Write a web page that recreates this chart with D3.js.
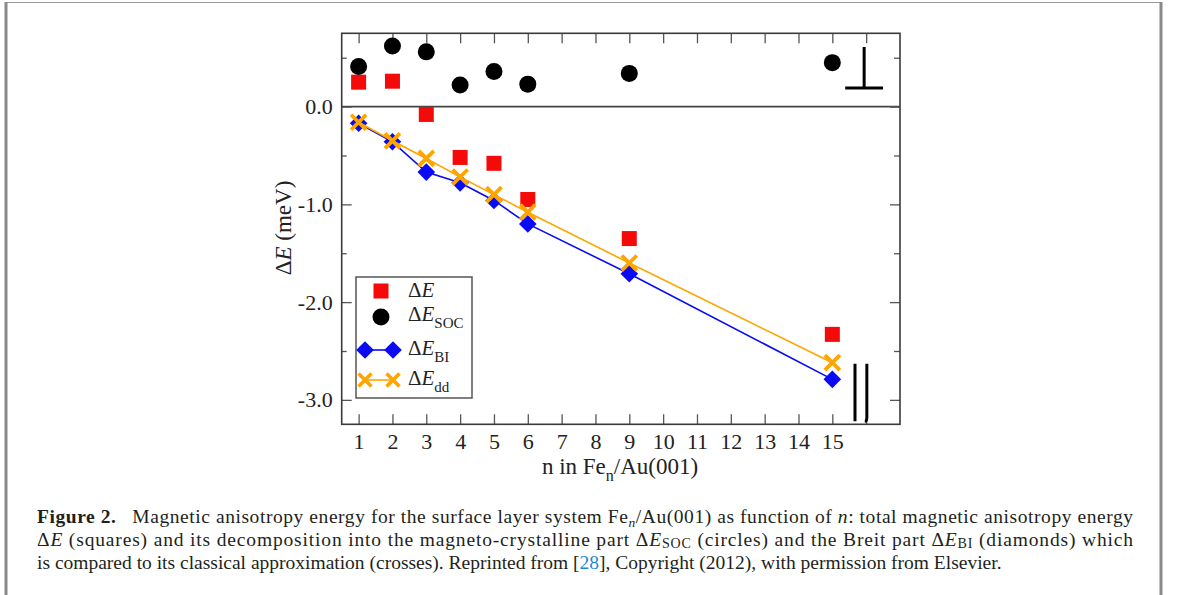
<!DOCTYPE html>
<html><head><meta charset="utf-8">
<script src="https://cdn.jsdelivr.net/npm/d3@7"></script>
<style>
html,body{margin:0;padding:0;background:#fff;}
svg{display:block;}
text{font-family:"Liberation Serif","Times New Roman",serif;}
</style></head>
<body>
<svg id="chart" width="1179" height="595"></svg>
<script>
// ---- data ----
const nValues = [1, 2, 3, 4, 5, 6, 9, 15];
const dE      = [0.25, 0.26, -0.08, -0.52, -0.58, -0.95, -1.35, -2.33];
const dESOC   = [0.41, 0.62, 0.56, 0.22, 0.36, 0.23, 0.34, 0.45];
const dEBI    = [-0.17, -0.36, -0.67, -0.78, -0.96, -1.20, -1.71, -2.79];
const dEdd    = [-0.16, -0.35, -0.53, -0.72, -0.90, -1.08, -1.60, -2.62];
const xTickValues = [1,2,3,4,5,6,7,8,9,10,11,12,13,14,15,16];
const xTickLabels = ["1","2","3","4","5","6","7","8","9","10","11","12","13","14","15",""];
const yMajorTicks = [0, -1, -2, -3];
const yMajorLabels = ["0.0", "-1.0", "-2.0", "-3.0"];
const yMinorTicks = [0.5, -0.5, -1.5, -2.5];

const svg = d3.select("#chart");
const W = 1179, H = 595;

// page frame
svg.append("line").attr("x1",6).attr("x2",1161).attr("y1",2.5).attr("y2",2.5).attr("stroke","#9a9a9a").attr("stroke-width",1);
svg.append("line").attr("x1",6).attr("x2",6).attr("y1",2).attr("y2",H).attr("stroke","#8a8a8a").attr("stroke-width",3);
svg.append("line").attr("x1",1161).attr("x2",1161).attr("y1",2).attr("y2",H).attr("stroke","#8a8a8a").attr("stroke-width",3);

const L = 341.7, R = 900, T = 33.3, B = 424.3;
const x = d3.scaleLinear().domain([0.5, 17]).range([L, R]);
const y = d3.scaleLinear().domain([0.75, -3.25]).range([T, B]);

const axisColor = "#3a3a3a";
const g = svg.append("g");

// zero line
g.append("line").attr("x1",L).attr("x2",R).attr("y1",y(0)).attr("y2",y(0)).attr("stroke","#444").attr("stroke-width",1.6);

// axes via d3 axes (inward ticks)
const fmt = (d) => xTickLabels[xTickValues.indexOf(d)];
const xb = g.append("g").attr("transform",`translate(0,${B})`)
  .call(d3.axisBottom(x).tickValues(xTickValues).tickFormat(fmt).tickSizeInner(-10).tickSizeOuter(0).tickPadding(9));
const xt = g.append("g").attr("transform",`translate(0,${T})`)
  .call(d3.axisTop(x).tickValues(xTickValues).tickFormat("").tickSizeInner(-10).tickSizeOuter(0));
const yl = g.append("g").attr("transform",`translate(${L},0)`)
  .call(d3.axisLeft(y).tickValues(yMajorTicks).tickFormat((d,i)=>yMajorLabels[i]).tickSizeInner(-10).tickSizeOuter(0).tickPadding(9));
const ylm = g.append("g").attr("transform",`translate(${L},0)`)
  .call(d3.axisLeft(y).tickValues(yMinorTicks).tickFormat("").tickSizeInner(-5).tickSizeOuter(0));
const yr = g.append("g").attr("transform",`translate(${R},0)`)
  .call(d3.axisRight(y).tickValues(yMajorTicks).tickFormat("").tickSizeInner(-10).tickSizeOuter(0));
const yrm = g.append("g").attr("transform",`translate(${R},0)`)
  .call(d3.axisRight(y).tickValues(yMinorTicks).tickFormat("").tickSizeInner(-6).tickSizeOuter(0));
[xb,xt,yl,ylm,yr,yrm].forEach(a=>{
  a.select(".domain").remove();
  a.selectAll(".tick line").attr("stroke","#555").attr("stroke-width",1.3);
  a.selectAll("text").attr("fill","#222").style("font-size","22px").style("font-family","Liberation Serif, serif");
});
// frame
g.append("rect").attr("x",L).attr("y",T).attr("width",R-L).attr("height",B-T)
  .attr("fill","none").attr("stroke",axisColor).attr("stroke-width",1.6);

// axis titles
const yt = svg.append("text").attr("transform",`translate(291,228) rotate(-90)`).attr("text-anchor","middle")
  .attr("fill","#222").style("font-size","23px");
yt.append("tspan").text("\u0394");
yt.append("tspan").attr("font-style","italic").text("E");
yt.append("tspan").text(" (meV)");

const xtTitle = svg.append("text").attr("x",620).attr("y",474).attr("text-anchor","middle").attr("fill","#222").style("font-size","23px");
xtTitle.append("tspan").text("n in Fe");
xtTitle.append("tspan").attr("dy",7).style("font-size","16px").text("n");
xtTitle.append("tspan").attr("dy",-7).text("/Au(001)");

// data marks
const pts = (vals) => nValues.map((n,i)=>({n, v: vals[i]}));
const red = "#f50a0a", blue = "#0a0af5", orange = "#ffa500";

// squares
g.selectAll(".sq").data(pts(dE)).enter().append("rect")
  .attr("x",d=>x(d.n)-7.5).attr("y",d=>y(d.v)-7.5).attr("width",15).attr("height",15).attr("fill",red);
// circles
g.selectAll(".ci").data(pts(dESOC)).enter().append("circle")
  .attr("cx",d=>x(d.n)).attr("cy",d=>y(d.v)).attr("r",8.5).attr("fill","#000");
// blue line + diamonds
const line = d3.line().x(d=>x(d.n)).y(d=>y(d.v));
g.append("path").datum(pts(dEBI)).attr("d",line).attr("fill","none").attr("stroke",blue).attr("stroke-width",1.6);
const diamond = (cx,cy,s) => `M${cx},${cy-s}L${cx+s},${cy}L${cx},${cy+s}L${cx-s},${cy}Z`;
g.selectAll(".di").data(pts(dEBI)).enter().append("path")
  .attr("d",d=>diamond(x(d.n),y(d.v),8.8)).attr("fill",blue);
// orange line + crosses
g.append("path").datum(pts(dEdd)).attr("d",line).attr("fill","none").attr("stroke",orange).attr("stroke-width",1.6);
const cross = (cx,cy,s) => `M${cx-s},${cy-s}L${cx+s},${cy+s}M${cx-s},${cy+s}L${cx+s},${cy-s}`;
g.selectAll(".cr").data(pts(dEdd)).enter().append("path")
  .attr("d",d=>cross(x(d.n),y(d.v),7.5)).attr("stroke",orange).attr("stroke-width",3.8).attr("fill","none");

// orientation symbols
g.append("path").attr("d",`M${x(15.94)},${y(0.61)}V${y(0.19)}M${x(15.38)},${y(0.19)}H${x(16.5)}`)
  .attr("stroke","#000").attr("stroke-width",3).attr("fill","none");
g.append("path").attr("d",`M${x(15.67)},${y(-2.63)}V${y(-3.22)}M${x(16.02)},${y(-2.63)}V${y(-3.18)}Q${x(16.02)},${y(-3.22)} ${x(15.96)},${y(-3.22)}`)
  .attr("stroke","#000").attr("stroke-width",3).attr("fill","none");

// legend
const lg = svg.append("g");
lg.append("rect").attr("x",356).attr("y",277).attr("width",116).attr("height",121)
  .attr("fill","#fff").attr("stroke","#555").attr("stroke-width",1.5);
const lx = 381, ltx = 408;
lg.append("rect").attr("x",lx-7.5).attr("y",291-7.5).attr("width",15).attr("height",15).attr("fill",red);
lg.append("circle").attr("cx",lx).attr("cy",317).attr("r",8.5).attr("fill","#000");
lg.append("line").attr("x1",lx-18).attr("x2",lx+14).attr("y1",350).attr("y2",350).attr("stroke",blue).attr("stroke-width",1.6);
lg.append("path").attr("d",diamond(lx-16,350,8.8)).attr("fill",blue);
lg.append("path").attr("d",diamond(lx+12,350,8.8)).attr("fill",blue);
lg.append("line").attr("x1",lx-18).attr("x2",lx+14).attr("y1",380).attr("y2",380).attr("stroke",orange).attr("stroke-width",1.6);
lg.append("path").attr("d",cross(lx-16,380,6.5)).attr("stroke",orange).attr("stroke-width",3.6).attr("fill","none");
lg.append("path").attr("d",cross(lx+12,380,6.5)).attr("stroke",orange).attr("stroke-width",3.6).attr("fill","none");

const legendLabels = [["", 297], ["SOC", 321], ["BI", 355], ["dd", 385]];
legendLabels.forEach(([sub, yy]) => {
  const t = lg.append("text").attr("x",ltx).attr("y",yy).attr("fill","#222").style("font-size","21px");
  t.append("tspan").text("\u0394");
  t.append("tspan").attr("font-style","italic").text("E");
  if (sub) t.append("tspan").attr("dy",7).style("font-size","15px").text(sub);
});

// caption
const capColor = "#231f20";
const cap = svg.append("g").attr("fill",capColor).style("font-size","19.5px");
const c1 = cap.append("text").attr("x",37).attr("y",523).attr("textLength",1096).attr("lengthAdjust","spacing");
c1.append("tspan").attr("font-weight","bold").text("Figure 2.");
c1.append("tspan").text("\u2002 Magnetic anisotropy energy for the surface layer system Fe");
c1.append("tspan").attr("font-style","italic").attr("dy",4).style("font-size","13.5px").text("n");
c1.append("tspan").attr("dy",-4).text("/Au(001) as function of ");
c1.append("tspan").attr("font-style","italic").text("n");
c1.append("tspan").text(": total magnetic anisotropy energy");

const c2 = cap.append("text").attr("x",37).attr("y",546).attr("textLength",1096).attr("lengthAdjust","spacing");
c2.append("tspan").text("\u0394");
c2.append("tspan").attr("font-style","italic").text("E");
c2.append("tspan").text(" (squares) and its decomposition into the magneto-crystalline part \u0394");
c2.append("tspan").attr("font-style","italic").text("E");
c2.append("tspan").attr("dy",2).style("font-size","14px").text("SOC");
c2.append("tspan").attr("dy",-2).text(" (circles) and the Breit part \u0394");
c2.append("tspan").attr("font-style","italic").text("E");
c2.append("tspan").attr("dy",2).style("font-size","14px").text("BI");
c2.append("tspan").attr("dy",-2).text(" (diamonds) which");

const c3 = cap.append("text").attr("x",37).attr("y",569);
c3.append("tspan").text("is compared to its classical approximation (crosses). Reprinted from [");
c3.append("tspan").attr("fill","#1a8ad4").text("28");
c3.append("tspan").text("], Copyright (2012), with permission from Elsevier.");
</script>
</body></html>
